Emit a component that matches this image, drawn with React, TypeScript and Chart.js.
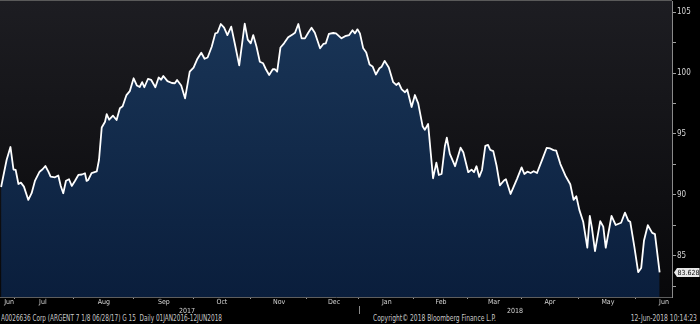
import React, { useEffect, useRef } from "react";
import { Chart, registerables } from "chart.js";

Chart.register(...registerables);

// trading-session index (x) and price (y)
const sessionIndex = [
  0.4, 2.4, 3.8, 4.9, 5.7, 6.7, 7.6, 8.7, 10.3, 11.5,
  12.7, 14.4, 15.5, 16.5, 17.6, 18.4, 20.0, 21.2, 22.1, 23.0,
  24.0, 25.1, 26.1, 27.3, 28.5, 29.8, 30.9, 31.5, 32.1, 33.3,
  35.2, 36.0, 37.0, 38.2, 38.8, 39.7, 41.1, 42.4, 43.6, 44.6,
  46.0, 47.2, 48.6, 49.8, 50.8, 51.7, 52.5, 53.8, 55.0, 56.5,
  57.7, 58.6, 59.4, 60.9, 62.5, 63.6, 64.4, 65.9, 67.3, 69.0,
  70.4, 71.7, 73.2, 74.4, 75.5, 77.0, 78.3, 79.1, 80.3, 81.5,
  82.7, 84.1, 85.5, 87.0, 89.0, 90.1, 91.2, 92.1, 93.3, 94.5,
  95.7, 96.7, 97.9, 99.2, 100.0, 100.8, 102.0, 103.3, 104.8, 106.4,
  107.3, 108.5, 109.7, 110.9, 112.1, 113.3, 114.5, 116.4, 117.6, 118.5,
  119.6, 121.2, 122.2, 124.2, 125.5, 127.0, 128.2, 129.1, 130.0, 130.9,
  132.1, 133.2, 134.4, 135.5, 136.7, 138.0, 138.8, 139.9, 141.4, 143.0,
  144.1, 145.0, 146.1, 147.3, 148.1, 149.7, 150.9, 152.1, 153.7, 154.5,
  155.7, 157.5, 158.7, 159.6, 160.6, 161.8, 162.5, 163.6, 165.5, 167.5,
  168.5, 170.3, 171.5, 172.4, 173.3, 174.3, 175.3, 176.5, 177.5, 178.3,
  179.4, 180.6, 181.8, 183.3, 184.0, 185.7, 188.0, 189.7, 190.7, 191.8,
  193.0, 194.1, 195.3, 197.3, 198.8, 200.1, 201.3, 202.3, 203.8, 205.6,
  207.4, 208.6, 209.6, 210.7, 212.1, 213.6, 214.5, 215.3, 216.4, 218.3,
  219.4, 220.3, 222.4, 223.9, 225.9, 227.3, 228.5, 229.2, 230.7, 232.1,
  233.2, 234.2, 235.6, 237.2, 238.2, 239.9,
];

const prices = [
  90.64, 92.86, 93.93, 92.08, 92.04, 90.89, 91.0, 90.67, 89.58, 90.13,
  91.14, 91.9, 92.1, 92.37, 91.9, 91.49, 91.44, 91.59, 90.73, 90.13,
  91.16, 91.28, 90.73, 91.16, 91.63, 91.67, 91.77, 91.14, 91.22, 91.79,
  91.92, 92.86, 95.53, 96.01, 96.63, 96.17, 96.5, 96.15, 97.11, 97.28,
  98.2, 98.52, 99.58, 98.98, 98.86, 99.26, 98.84, 99.52, 99.44, 98.84,
  99.64, 99.46, 99.77, 99.34, 99.19, 99.17, 99.44, 98.98, 97.93, 100.12,
  100.46, 101.14, 101.68, 101.18, 101.29, 102.17, 103.27, 103.32, 104.04, 103.75,
  103.13, 103.82, 102.31, 100.64, 104.06, 102.75, 102.45, 103.13, 102.17, 100.94,
  100.81, 100.32, 99.85, 100.32, 100.32, 100.12, 102.11, 102.45, 102.95, 103.18,
  103.32, 104.04, 102.86, 102.86, 103.32, 103.73, 103.32, 102.04, 102.4, 102.45,
  103.22, 103.3, 103.27, 102.86, 103.04, 103.13, 103.53, 103.27, 103.6, 103.27,
  102.04, 101.7, 100.71, 100.55, 99.89, 100.4, 100.53, 101.01, 100.46, 99.26,
  99.03, 99.19, 98.67, 98.43, 98.65, 97.22, 98.2, 97.52, 95.64, 95.34,
  95.82, 91.36, 92.64, 91.63, 91.71, 93.99, 94.69, 93.36, 92.35, 93.87,
  93.5, 91.86, 92.07, 91.86, 92.35, 91.47, 92.04, 94.03, 94.1, 93.69,
  93.59, 92.39, 90.77, 91.18, 91.28, 90.07, 91.29, 92.26, 91.71, 91.9,
  91.79, 91.94, 91.79, 92.95, 93.85, 93.81, 93.67, 93.63, 92.53, 91.59,
  90.87, 89.58, 89.88, 88.76, 87.79, 85.65, 88.26, 87.25, 85.37, 87.83,
  87.38, 85.65, 88.26, 87.52, 87.7, 88.53, 87.88, 87.79, 85.74, 83.64,
  83.99, 86.22, 87.5, 86.87, 86.77, 83.628,
];

const lastValue = 83.628;

// x-axis: month boundaries (tick marks), month label centres, year labels
const monthStarts = [5.1, 26.7, 48.7, 70.2, 91.1, 111.5, 130.5, 150.5, 170.0, 189.8, 210.5, 231.3];
const monthNames = ["Jun", "Jul", "Aug", "Sep", "Oct", "Nov", "Dec", "Jan", "Feb", "Mar", "Apr", "May", "Jun"];
const monthLabelAt = [3.3, 15.6, 37.8, 59.6, 80.7, 101.5, 121.5, 140.7, 160.4, 179.6, 200.0, 221.1, 241.5];
const yearNames = ["2017", "2018"];
const yearLabelAt = [68.0, 187.3];
const yearBreak = 130.5;

// y-axis ticks
const yMajor = [85, 90, 95, 100, 105];
const yMinor = [82.5, 87.5, 92.5, 97.5, 102.5];

const X_MIN = 0;
const X_MAX = 244.4;
const Y_MIN = 81.6;
const Y_MAX = 105.93;

const FONT = '"Liberation Sans Narrow", "DejaVu Sans Condensed", "Liberation Sans", sans-serif';

type XT = { value: number; label: string | string[]; mark: boolean };
const xTicks: XT[] = [
  ...monthStarts.map((v) => ({ value: v, label: "", mark: true })),
  ...monthLabelAt.map((v, i) => ({ value: v, label: monthNames[i], mark: false })),
  ...yearLabelAt.map((v, i) => ({ value: v, label: ["", yearNames[i]], mark: false })),
].sort((a, b) => a.value - b.value);

const yTicks = [...yMajor, ...yMinor].sort((a, b) => a - b);

const bbgPlugin = {
  id: "bbg",
  beforeDraw(chart: any) {
    const { ctx, chartArea: a } = chart;
    if (!a) return;
    ctx.save();
    const g = ctx.createLinearGradient(0, a.top, 0, a.bottom);
    g.addColorStop(0, "#1d1d22");
    g.addColorStop(1, "#08080a");
    ctx.fillStyle = g;
    ctx.fillRect(a.left, a.top, a.right - a.left, a.bottom - a.top);
    ctx.strokeStyle = "#5a5a5a";
    ctx.lineWidth = 1;
    ctx.beginPath();
    ctx.moveTo(a.left, a.top - 0.5);
    ctx.lineTo(a.right, a.top - 0.5);
    ctx.stroke();
    ctx.restore();
  },
  afterDraw(chart: any) {
    const { ctx, chartArea: a, scales } = chart;
    const x = scales.x;
    const y = scales.y;
    ctx.save();
    // year separator
    const xb = Math.round(x.getPixelForValue(yearBreak)) + 0.5;
    ctx.strokeStyle = "#8a8a8a";
    ctx.lineWidth = 1;
    ctx.beginPath();
    ctx.moveTo(xb, a.bottom + 9);
    ctx.lineTo(xb, a.bottom + 17);
    ctx.stroke();
    // last value badge
    const yv = Math.round(y.getPixelForValue(lastValue)) + 0.5;
    const x0 = y.left + 2;
    const h = 4.5;
    ctx.beginPath();
    ctx.moveTo(x0, yv);
    ctx.lineTo(x0 + 3, yv - h);
    ctx.lineTo(699.5, yv - h);
    ctx.lineTo(699.5, yv + h);
    ctx.lineTo(x0 + 3, yv + h);
    ctx.closePath();
    ctx.fillStyle = "#e8e8e8";
    ctx.fill();
    ctx.fillStyle = "#111";
    ctx.font = `7px ${FONT}`;
    ctx.textAlign = "left";
    ctx.textBaseline = "middle";
    ctx.fillText(lastValue.toFixed(3), x0 + 3.5, yv + 0.5);
    ctx.restore();
  },
};

export default function App() {
  const ref = useRef<HTMLCanvasElement>(null);

  useEffect(() => {
    document.body.style.margin = "0";
    document.body.style.background = "#000";
    const canvas = ref.current;
    if (!canvas) return;
    const points = sessionIndex.map((s, i) => ({ x: s, y: prices[i] }));
    const chart = new Chart(canvas, {
      type: "line",
      data: {
        datasets: [
          {
            data: points,
            borderColor: "#ffffff",
            borderWidth: 1.8,
            borderJoinStyle: "round",
            pointRadius: 0,
            tension: 0,
            fill: "start",
            backgroundColor: (c: any) => {
              const a = c.chart.chartArea;
              if (!a) return "#12294a";
              const g = c.chart.ctx.createLinearGradient(0, a.top, 0, a.bottom);
              g.addColorStop(0, "#1a3658");
              g.addColorStop(1, "#0a1e3c");
              return g;
            },
          },
        ],
      },
      options: {
        responsive: false,
        maintainAspectRatio: false,
        animation: false,
        layout: { padding: { top: 1, left: 0, right: 0, bottom: 0 } },
        plugins: { legend: { display: false }, tooltip: { enabled: false } },
        scales: {
          x: {
            type: "linear",
            position: "bottom",
            min: X_MIN,
            max: X_MAX,
            afterBuildTicks: (s: any) => {
              s.ticks = xTicks.map((t) => ({ value: t.value }));
            },
            afterFit: (s: any) => {
              s.height = 17;
              s.paddingLeft = 0;
              s.paddingRight = 0;
            },
            ticks: {
              autoSkip: false,
              maxRotation: 0,
              minRotation: 0,
              padding: -1,
              color: "#d6d6d6",
              font: { family: FONT, size: 7, lineHeight: 1.25 },
              callback: (_v: any, i: number) => (xTicks[i] ? xTicks[i].label : ""),
            },
            grid: {
              drawOnChartArea: false,
              drawTicks: true,
              tickLength: 2,
              tickWidth: 1,
              tickColor: (ctx: any) => (xTicks[ctx.index] && xTicks[ctx.index].mark ? "#9a9a9a" : "rgba(0,0,0,0)"),
            },
            border: { display: true, color: "#5e5e5e", width: 1 },
          },
          y: {
            type: "linear",
            position: "right",
            min: Y_MIN,
            max: Y_MAX,
            afterBuildTicks: (s: any) => {
              s.ticks = yTicks.map((v) => ({ value: v }));
            },
            afterFit: (s: any) => {
              s.width = 28;
              s.paddingTop = 0;
              s.paddingBottom = 0;
            },
            ticks: {
              autoSkip: false,
              padding: 1,
              color: "#d6d6d6",
              font: { family: FONT, size: 8 },
              callback: (v: any) => (yMajor.includes(Number(v)) ? String(v) : ""),
            },
            grid: {
              drawOnChartArea: false,
              drawTicks: true,
              tickLength: 4,
              tickWidth: 1,
              tickColor: "#a0a0a0",
            },
            border: { display: true, color: "#8a8a8a", width: 1 },
          },
        },
      },
      plugins: [bbgPlugin],
    } as any);
    return () => chart.destroy();
  }, []);

  const footSpan: React.CSSProperties = { position: "absolute", top: 0, display: "inline-block" };

  return (
    <div style={{ width: 700, height: 324, background: "#000", position: "relative", overflow: "hidden" }}>
      <canvas ref={ref} width={700} height={314} style={{ display: "block", width: 700, height: 314 }} />
      <div
        style={{
          position: "absolute",
          top: 314,
          left: 0,
          width: 700,
          height: 10,
          fontFamily: FONT,
          fontSize: 8,
          lineHeight: "10px",
          color: "#c8c8c8",
          whiteSpace: "pre",
        }}
      >
        <span style={{ ...footSpan, left: 1, transform: "scaleX(0.8)", transformOrigin: "left center" }}>
          A0026636 Corp (ARGENT 7 1/8 06/28/17) G 15  Daily 01JAN2016-12JUN2018
        </span>
        <span style={{ ...footSpan, left: 373, transform: "scaleX(0.83)", transformOrigin: "left center" }}>
          Copyright© 2018 Bloomberg Finance L.P.
        </span>
        <span style={{ ...footSpan, right: 3, transform: "scaleX(0.84)", transformOrigin: "right center" }}>
          12-Jun-2018 10:14:23
        </span>
      </div>
    </div>
  );
}
